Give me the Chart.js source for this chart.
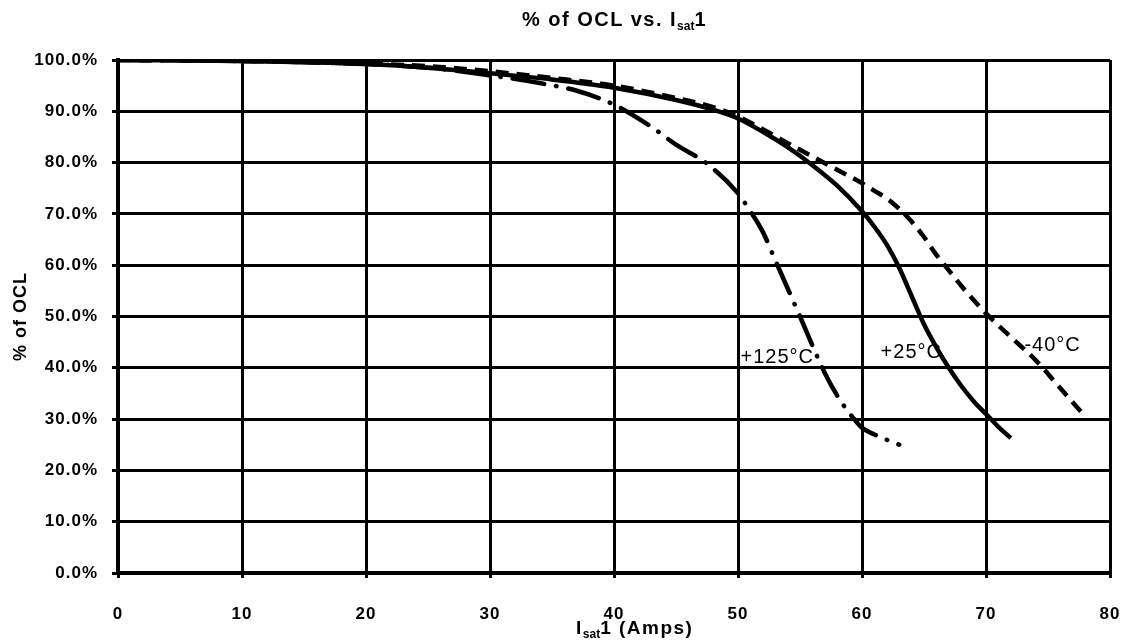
<!DOCTYPE html>
<html>
<head>
<meta charset="utf-8">
<script src="https://cdn.jsdelivr.net/npm/chart.js@4/dist/chart.umd.min.js"></script>
<style>
    body { margin: 0; background: #fff; }
    #wrap { position: relative; width: 1126px; height: 643px; }
    .txt { position: absolute; font-family: "Liberation Sans", Arial, sans-serif; font-weight: bold; color: #000; white-space: nowrap; letter-spacing: 1.5px; }
    .txt sub { font-size: 12px; vertical-align: -4px; letter-spacing: 0; }
    #title { left: 522px; top: 8px; font-size: 20px; }
    #xtitle { left: 576px; top: 617px; font-size: 19px; }
</style>
</head>
<body>
<div id="wrap">
    <canvas id="ocl" width="1126" height="643"></canvas>
    <div id="title" class="txt">% of OCL vs. I<sub>sat</sub>1</div>
    <div id="xtitle" class="txt">I<sub>sat</sub>1 (Amps)</div>
</div>
<script>
// current (A) vs % of OCL
var amps_25 = [0, 10, 20, 25, 30, 35, 40, 45, 48, 50, 52, 54, 56, 58, 60, 61, 62, 63, 64, 65, 66, 67, 68, 69, 70, 71, 72]
var ocl_25 = [100, 99.8, 99.2, 98.5, 97.4, 96.2, 94.6, 92.2, 90.3, 88.6, 86, 83, 79.5, 75.5, 70.5, 67.5, 64, 59.5, 54, 48.5, 44, 40, 36.5, 33.5, 31, 28.5, 26.3]

var amps_m40 = [0, 10, 20, 25, 30, 35, 40, 45, 48, 50, 52, 54, 56, 58, 60, 61, 62, 63, 64, 65, 66, 67, 68, 69, 70, 72, 74, 76, 78]
var ocl_m40 = [100, 99.8, 99.3, 98.8, 97.8, 96.5, 95, 92.6, 90.8, 89, 86.5, 83.8, 81.2, 78.6, 76, 74.5, 73, 71, 68.5, 65.5, 62, 59, 56, 53.2, 50.6, 46, 41.5, 36, 30.5]

var amps_125 = [0, 10, 20, 25, 30, 34, 37, 40, 43, 45, 47.5, 50, 51, 52, 53, 55, 57, 58.2, 59.2, 60, 61, 63]
var ocl_125 = [100, 99.8, 99.2, 98.5, 97, 95.5, 94, 91.3, 87, 83.5, 79.8, 74, 70.5, 66.5, 61, 50, 39, 33.8, 30.5, 28.3, 27, 25]

var x_ticks = [0, 10, 20, 30, 40, 50, 60, 70, 80]

// curve labels: [text, amps, % of OCL]
var curve_labels = [
    ['+125°C', 50.2, 42.1],
    ['+25°C', 61.5, 42.9],
    ['-40°C', 73.1, 44.4]
]

function to_points(xs, ys) {
    var pts = []
    for (let i = 0; i < xs.length; i++) {
        pts.push({x: xs[i], y: ys[i]})
    }
    return pts
}

const spacing = {
    id: 'spacing',
    beforeDraw(chart) {
        chart.ctx.letterSpacing = '1px'
    }
}

const curve_text = {
    id: 'curve_text',
    afterDatasetsDraw(chart) {
        const ctx = chart.ctx
        ctx.save()
        ctx.letterSpacing = '1px'
        ctx.font = '20px "Liberation Sans", Arial, sans-serif'
        ctx.fillStyle = '#000'
        ctx.textBaseline = 'middle'
        ctx.textAlign = 'left'
        curve_labels.forEach(function (l) {
            let px = chart.scales.x.getPixelForValue(l[1])
            let py = chart.scales.y.getPixelForValue(l[2])
            ctx.fillText(l[0], px, py)
        })
        ctx.restore()
    }
}

function generate_chart() {
    const ctx = document.getElementById('ocl').getContext('2d');
    const tick_font = {family: '"Liberation Sans", Arial, sans-serif', size: 17, weight: 'bold'}
    const myChart = new Chart(ctx, {
        type: 'line',
        data: {
            datasets: [{
                label: '+25°C',
                data: to_points(amps_25, ocl_25),
                borderColor: '#000',
                borderWidth: 4.5,
                cubicInterpolationMode: 'monotone',
                pointRadius: 0
            }, {
                label: '-40°C',
                data: to_points(amps_m40, ocl_m40),
                borderColor: '#000',
                borderWidth: 4.5,
                borderDash: [13, 8],
                cubicInterpolationMode: 'monotone',
                pointRadius: 0
            }, {
                label: '+125°C',
                data: to_points(amps_125, ocl_125),
                borderColor: '#000',
                borderWidth: 4.5,
                borderDash: [32, 12, 0.5, 12],
                borderCapStyle: 'round',
                cubicInterpolationMode: 'monotone',
                pointRadius: 0
            }]
        },
        options: {
            responsive: false,
            animation: false,
            layout: {padding: {top: 60, right: 16, left: 0, bottom: 0}},
            plugins: {
                legend: {display: false},
                tooltip: {enabled: false}
            },
            scales: {
                x: {
                    type: 'linear',
                    min: 0,
                    max: 80,
                    afterBuildTicks: function (axis) {
                        axis.ticks = x_ticks.map(v => ({value: v}))
                    },
                    afterFit: function (axis) {
                        axis.height = 70
                        axis.paddingLeft = 0
                        axis.paddingRight = 0
                    },
                    grid: {color: '#000', lineWidth: 3, tickLength: 5},
                    border: {color: '#000', width: 4},
                    ticks: {color: '#000', font: tick_font, padding: 26, maxRotation: 0}
                },
                y: {
                    min: 0,
                    max: 100,
                    afterFit: function (axis) {
                        axis.width = 118
                        axis.paddingTop = 0
                        axis.paddingBottom = 0
                    },
                    grid: {color: '#000', lineWidth: 3, tickLength: 6},
                    border: {color: '#000', width: 4},
                    ticks: {
                        color: '#000',
                        font: tick_font,
                        stepSize: 10,
                        padding: 14,
                        callback: function (v) { return v.toFixed(1) + '%' }
                    },
                    title: {
                        display: true,
                        text: '% of OCL',
                        color: '#000',
                        font: {family: '"Liberation Sans", Arial, sans-serif', size: 18, weight: 'bold'},
                        padding: {top: 10, bottom: 0}
                    }
                }
            }
        },
        plugins: [spacing, curve_text]
    });
}

generate_chart()
</script>
</body>
</html>
